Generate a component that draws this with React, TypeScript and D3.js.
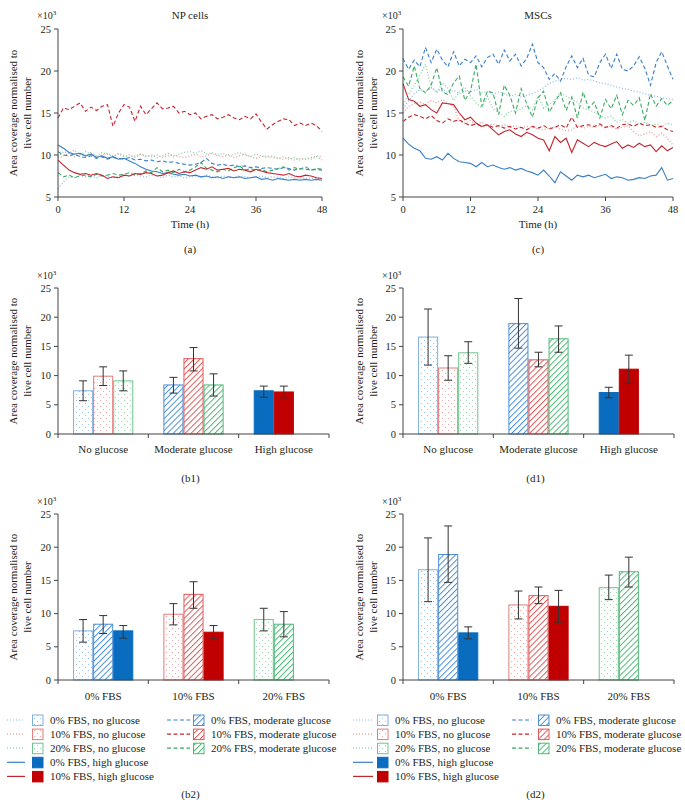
import React from "react";
import * as d3 from "d3";

// ---------- DATA ----------
const hours = d3.range(0, 49);

// NP cells time courses (x10^3)
const npNoGluc0 = [6.0,6.8,7.4,7.3,7.6,7.4,7.5,7.3,7.6,7.5,7.3,7.4,7.6,7.5,7.7,7.5,7.4,7.6,7.5,7.3,7.6,7.4,7.5,7.3,7.4,7.5,7.3,7.6,7.4,7.3,7.5,7.4,7.3,7.5,7.4,7.3,7.4,7.5,7.3,7.4,7.3,7.2,7.4,7.3,7.2,7.3,7.2,7.3,7.2];
const npNoGluc10 = [9.6,9.9,10.2,9.8,10.1,9.9,10.3,9.8,10.0,10.2,9.9,10.1,9.8,10.0,9.7,10.1,9.9,9.8,10.0,9.7,9.9,10.0,9.8,9.7,9.9,10.1,9.8,9.9,10.2,9.9,9.8,10.0,9.7,9.9,10.1,9.8,9.6,9.8,9.9,9.7,9.6,9.5,9.7,9.4,9.6,9.5,9.7,9.9,9.8];
const npNoGluc20 = [9.8,10.4,10.2,10.6,10.0,10.4,10.2,9.9,10.3,10.1,9.8,10.2,10.0,9.7,9.9,10.1,9.8,10.0,9.7,9.9,10.2,9.8,10.1,10.3,10.4,10.2,10.5,10.1,10.3,10.0,10.2,9.9,10.1,10.3,10.0,9.8,10.1,9.9,9.7,9.9,9.6,9.8,9.5,9.7,9.4,9.6,9.5,9.8,9.4];
const npMod0 = [10.4,10.0,9.9,10.1,9.8,9.7,9.9,9.6,9.8,9.5,9.7,9.6,9.5,9.7,9.4,9.5,9.3,9.4,9.2,9.3,9.1,9.2,9.0,8.9,8.8,8.9,9.1,9.6,9.0,8.8,8.9,8.7,8.8,8.6,8.7,8.5,8.6,8.4,8.5,8.4,8.3,8.5,8.4,8.2,8.4,8.3,8.2,8.3,8.2];
const npMod10 = [14.4,15.6,15.4,15.8,16.2,15.2,15.7,15.3,15.8,16.0,13.4,15.0,16.0,15.7,14.0,15.8,14.8,15.5,16.2,15.5,15.6,15.8,15.0,15.2,14.8,15.0,14.3,14.6,14.8,14.3,14.5,14.8,14.4,14.2,14.6,14.3,14.9,13.9,13.1,13.6,14.0,14.3,14.2,13.5,13.8,13.5,13.8,13.5,12.8];
const npMod20 = [7.9,7.4,7.6,7.3,7.5,7.6,7.4,7.7,7.5,7.6,7.8,7.6,7.7,7.9,7.6,7.8,8.1,7.9,8.5,8.0,8.2,7.9,8.3,8.0,8.2,8.6,9.1,8.4,8.2,8.0,8.3,8.1,8.5,8.7,8.2,8.4,8.1,8.3,8.0,8.2,8.4,8.6,8.2,8.5,8.3,8.6,8.2,8.4,8.3];
const npHigh0 = [11.2,10.8,10.3,10.1,10.2,9.9,10.1,9.7,9.9,9.6,9.8,9.5,9.6,9.3,9.0,8.6,8.3,8.1,8.0,7.8,7.9,7.7,7.6,7.7,7.5,7.6,7.4,7.5,7.3,7.4,7.2,7.4,7.3,7.4,7.2,7.3,7.4,7.1,7.2,7.0,7.2,7.1,7.0,7.1,7.0,7.1,7.0,7.1,7.0];
const npHigh10 = [9.4,8.8,8.2,7.9,7.7,7.8,7.6,7.8,7.6,7.2,7.4,7.3,7.6,7.5,7.8,7.7,7.9,7.8,7.5,7.6,7.9,8.1,7.8,8.0,7.9,8.2,8.5,8.3,8.6,8.2,8.3,8.4,8.1,8.3,8.2,8.0,8.3,8.1,7.9,7.8,7.7,7.6,7.8,7.5,7.4,7.6,7.5,7.3,7.2];

// MSCs time courses (x10^3)
const mscNoGluc0 = [15.5,16.5,17.3,17.8,17.5,18.0,17.6,17.9,17.4,17.7,17.3,17.6,17.5,17.8,17.4,17.6,17.2,17.5,17.3,17.0,17.2,16.9,17.1,17.3,17.6,18.0,18.5,18.8,19.0,19.1,19.0,19.2,18.9,19.0,18.8,18.6,18.5,18.3,18.1,17.9,17.8,17.6,17.5,17.3,17.1,17.0,16.8,16.7,16.6];
const mscNoGluc10 = [15.0,15.8,16.1,16.3,16.0,16.5,16.2,16.6,16.2,15.8,14.0,13.8,14.1,13.6,13.9,13.5,13.7,13.4,13.6,13.3,13.5,13.2,13.4,13.3,13.1,13.0,13.2,13.3,13.1,12.9,13.0,13.5,13.2,13.4,13.3,13.5,13.2,13.4,13.1,13.3,13.5,12.8,12.3,12.5,12.8,12.2,12.6,12.0,11.2];
const mscNoGluc20 = [16.0,17.2,18.3,19.5,20.8,18.1,17.4,18.6,17.9,16.5,17.5,18.1,17.0,16.2,15.6,17.0,15.5,15.1,14.6,15.2,15.3,15.5,15.9,15.4,17.0,15.6,16.0,16.6,17.4,17.0,16.6,16.3,15.6,15.4,15.1,14.7,14.4,14.6,13.9,14.2,13.8,14.1,13.7,13.9,13.5,13.7,13.4,13.8,13.6];
const mscMod0 = [21.5,20.2,21.3,20.5,22.8,21.0,22.6,21.3,20.5,22.3,20.6,21.4,21.0,21.8,20.5,21.6,22.0,20.8,22.5,21.2,22.0,20.6,21.5,23.2,21.0,20.4,19.0,19.7,18.8,20.5,21.8,20.4,21.5,19.5,19.3,21.0,22.0,20.3,22.0,20.2,20.0,20.6,21.7,20.3,18.3,21.0,22.3,20.6,19.0];
const mscMod10 = [14.0,14.5,14.8,14.6,14.3,14.7,14.1,13.8,14.3,14.0,14.2,13.8,13.5,13.7,13.4,13.6,13.3,13.5,13.2,13.4,13.1,13.3,13.0,13.4,13.2,13.5,13.1,13.3,13.6,13.2,14.5,13.3,13.5,13.6,13.4,13.7,13.3,13.5,13.2,13.6,13.7,13.4,13.8,13.5,13.6,13.3,13.4,13.0,12.8];
const mscMod20 = [19.3,18.2,20.6,17.9,17.4,18.3,20.4,17.5,17.2,18.6,19.4,16.5,17.6,20.8,15.8,17.6,17.4,14.8,18.3,17.1,15.0,17.9,16.1,14.5,16.8,17.6,15.1,16.3,17.4,15.3,16.9,14.4,17.5,15.6,16.3,14.4,16.6,15.5,17.1,14.8,16.5,15.9,16.8,14.1,17.3,15.8,16.7,15.9,16.5];
const mscHigh0 = [12.0,11.3,10.8,10.5,9.6,9.5,9.8,9.4,10.2,9.6,9.2,9.1,9.0,8.6,9.1,8.6,8.8,8.5,8.3,8.5,8.2,8.4,8.1,7.9,7.6,8.2,7.5,6.7,8.0,7.5,7.0,7.6,7.4,7.6,7.3,7.5,7.7,7.2,7.4,7.3,7.0,7.1,7.3,7.2,7.5,7.6,8.5,7.0,7.2];
const mscHigh10 = [18.5,16.6,16.4,15.8,16.0,15.4,15.0,16.2,16.1,16.0,15.0,14.2,14.5,13.8,13.4,13.6,13.0,12.4,12.8,13.0,12.5,12.2,12.7,12.4,12.0,11.8,10.5,12.2,11.5,12.0,10.3,11.8,11.4,11.0,11.5,11.2,11.0,11.3,11.6,10.8,11.2,10.9,11.4,11.0,11.2,10.4,11.1,10.5,10.9];

// Conditions (order: 0% no, 10% no, 20% no, 0% mod, 10% mod, 20% mod, 0% high, 10% high)
const condKeys = ["n0", "n10", "n20", "m0", "m10", "m20", "h0", "h10"];
const condLabels = [
  "0% FBS, no glucose", "10% FBS, no glucose", "20% FBS, no glucose",
  "0% FBS, moderate glucose", "10% FBS, moderate glucose", "20% FBS, moderate glucose",
  "0% FBS, high glucose", "10% FBS, high glucose",
];
const npMean = [7.4, 9.9, 9.1, 8.4, 12.9, 8.4, 7.4, 7.2];
const npLow = [5.7, 8.3, 7.4, 7.0, 10.8, 6.5, 6.3, 6.2];
const npHigh = [9.1, 11.5, 10.8, 9.7, 14.8, 10.3, 8.2, 8.2];
const mscMean = [16.6, 11.3, 13.9, 18.9, 12.7, 16.3, 7.1, 11.1];
const mscLow = [11.8, 9.2, 12.1, 14.7, 11.5, 14.0, 6.2, 8.7];
const mscHigh = [21.4, 13.4, 15.8, 23.2, 14.0, 18.5, 8.0, 13.5];

const glucoseGroups = ["No glucose", "Moderate glucose", "High glucose"];
const glucoseSlots = [["n0", "n10", "n20"], ["m0", "m10", "m20"], ["h0", "h10", null]];
const fbsGroups = ["0% FBS", "10% FBS", "20% FBS"];
const fbsSlots = [["n0", "m0", "h0"], ["n10", "m10", "h10"], ["n20", "m20", null]];

const lineTicksY = [5, 10, 15, 20, 25];
const lineTicksX = [0, 12, 24, 36, 48];
const barTicksY = [0, 5, 10, 15, 20, 25];

// ---------- STYLE ----------
const FONT = "'Liberation Serif', 'Times New Roman', serif";
const TXT = "#231f20";
const AX = "#444";

const C = {
  blue: "#3a7fc5", red: "#c3262e", green: "#3caa62",
  blueL: "#8cbce8", redL: "#e69a9a", greenL: "#86cfa0",
  blueS: "#0a6cbf", redS: "#c00000",
  blueH: "#4d8fd4", redH: "#dc5b5b", greenH: "#50b878",
};

type Style = { stroke: string; dash: string; fill: string; barStroke: string };
const styles: Record<string, Style> = {
  n0: { stroke: C.blueL, dash: "1,2", fill: "url(#dotB)", barStroke: "#7fb0e0" },
  n10: { stroke: C.redL, dash: "1,2", fill: "url(#dotR)", barStroke: "#e27c7c" },
  n20: { stroke: C.greenL, dash: "1,2", fill: "url(#dotG)", barStroke: "#6cc48c" },
  m0: { stroke: C.blue, dash: "4,2.5", fill: "url(#hatB)", barStroke: C.blueH },
  m10: { stroke: C.red, dash: "4,2.5", fill: "url(#hatR)", barStroke: C.redH },
  m20: { stroke: C.green, dash: "4,2.5", fill: "url(#hatG)", barStroke: C.greenH },
  h0: { stroke: C.blue, dash: "", fill: C.blueS, barStroke: C.blueS },
  h10: { stroke: C.red, dash: "", fill: C.redS, barStroke: C.redS },
};

const npSeries: Record<string, number[]> = {
  n0: npNoGluc0, n10: npNoGluc10, n20: npNoGluc20,
  m0: npMod0, m10: npMod10, m20: npMod20, h0: npHigh0, h10: npHigh10,
};
const mscSeries: Record<string, number[]> = {
  n0: mscNoGluc0, n10: mscNoGluc10, n20: mscNoGluc20,
  m0: mscMod0, m10: mscMod10, m20: mscMod20, h0: mscHigh0, h10: mscHigh10,
};
const drawOrder = ["n0", "n10", "n20", "m0", "m20", "m10", "h0", "h10"];

function YTitle({ x1, x2, cy }: { x1: number; x2: number; cy: number }) {
  return (
    <g fontSize={11} fill={TXT} textAnchor="middle">
      <text transform={`translate(${x1},${cy}) rotate(-90)`} dy="0.35em">Area coverage normalised to</text>
      <text transform={`translate(${x2},${cy}) rotate(-90)`} dy="0.35em">live cell number</text>
    </g>
  );
}

function Exp({ x, y }: { x: number; y: number }) {
  return (
    <text x={x} y={y} fontSize={10} fill={TXT}>
      ×10<tspan fontSize={7} dy={-4}>3</tspan>
    </text>
  );
}

function LinePanel(p: {
  left: number; right: number; top: number; bottom: number; title: string; caption: string;
  series: Record<string, number[]>; tx1: number; tx2: number;
}) {
  const x = d3.scaleLinear().domain([0, 48]).range([p.left, p.right]);
  const y = d3.scaleLinear().domain([5, 25]).range([p.bottom, p.top]);
  const cx = (p.left + p.right) / 2;
  return (
    <g>
      <text x={cx} y={19} fontSize={11} textAnchor="middle" fill={TXT}>{p.title}</text>
      <Exp x={p.left - 21} y={19} />
      <YTitle x1={p.tx1} x2={p.tx2} cy={(p.top + p.bottom) / 2} />
      {drawOrder.map((k) => {
        const vals = p.series[k];
        const line = d3.line<number>().x((_, i) => x(hours[i])).y((d) => y(d));
        const s = styles[k];
        return (
          <path key={k} d={line(vals) || ""} fill="none" stroke={s.stroke}
            strokeWidth={k.startsWith("n") ? 1.3 : 1.1} strokeDasharray={s.dash || undefined} />
        );
      })}
      <line x1={p.left} x2={p.left} y1={p.top} y2={p.bottom} stroke={AX} />
      <line x1={p.left} x2={p.right} y1={p.bottom} y2={p.bottom} stroke={AX} />
      {lineTicksY.map((t) => (
        <g key={t}>
          <line x1={p.left - 4} x2={p.left} y1={y(t)} y2={y(t)} stroke={AX} />
          <text x={p.left - 7} y={y(t)} dy="0.35em" fontSize={10.5} textAnchor="end" fill={TXT}>{t}</text>
        </g>
      ))}
      {lineTicksX.map((t) => (
        <g key={t}>
          <line x1={x(t)} x2={x(t)} y1={p.bottom} y2={p.bottom + 4} stroke={AX} />
          <text x={x(t)} y={p.bottom + 16} fontSize={10.5} textAnchor="middle" fill={TXT}>{t}</text>
        </g>
      ))}
      <text x={cx} y={p.bottom + 31} fontSize={11} textAnchor="middle" fill={TXT}>Time (h)</text>
      <text x={cx} y={p.bottom + 56} fontSize={11} textAnchor="middle" fill={TXT}>{p.caption}</text>
    </g>
  );
}

function BarPanel(p: {
  left: number; right: number; top: number; bottom: number; groups: string[]; slots: (string | null)[][];
  mean: number[]; low: number[]; high: number[]; caption: string; captionY: number; catY: number;
  tx1: number; tx2: number;
}) {
  const y = d3.scaleLinear().domain([0, 25]).range([p.bottom, p.top]);
  const gx = d3.scaleBand<string>().domain(p.groups).range([p.left, p.right]).paddingInner(0).paddingOuter(0);
  const sx = d3.scaleBand<number>().domain([0, 1, 2]).range([0, gx.bandwidth()]).paddingInner(0).paddingOuter(0.75);
  const cx = (p.left + p.right) / 2;
  const bounds = [...p.groups.map((g) => gx(g) as number), p.right];
  return (
    <g>
      <Exp x={p.left - 21} y={p.top - 9} />
      <YTitle x1={p.tx1} x2={p.tx2} cy={(p.top + p.bottom) / 2} />
      {p.groups.map((g, gi) =>
        p.slots[gi].map((k, si) => {
          if (!k) return null;
          const idx = condKeys.indexOf(k);
          const x0 = (gx(g) as number) + (sx(si) as number);
          const w = sx.bandwidth();
          const s = styles[k];
          return (
            <rect key={k} x={x0 + 0.5} y={y(p.mean[idx])} width={w - 1} height={p.bottom - y(p.mean[idx])}
              fill={s.fill} stroke={s.barStroke} strokeWidth={1} />
          );
        })
      )}
      {p.groups.map((g, gi) =>
        p.slots[gi].map((k, si) => {
          if (!k) return null;
          const idx = condKeys.indexOf(k);
          const xc = (gx(g) as number) + (sx(si) as number) + sx.bandwidth() / 2;
          const yl = y(p.low[idx]);
          const yh = y(p.high[idx]);
          return (
            <g key={"e" + k} stroke="#333" strokeWidth={1}>
              <line x1={xc} x2={xc} y1={yh} y2={yl} />
              <line x1={xc - 4} x2={xc + 4} y1={yh} y2={yh} />
              <line x1={xc - 4} x2={xc + 4} y1={yl} y2={yl} />
            </g>
          );
        })
      )}
      <line x1={p.left} x2={p.left} y1={p.top} y2={p.bottom} stroke={AX} />
      <line x1={p.left} x2={p.right} y1={p.bottom} y2={p.bottom} stroke={AX} />
      {barTicksY.map((t) => (
        <g key={t}>
          <line x1={p.left - 4} x2={p.left} y1={y(t)} y2={y(t)} stroke={AX} />
          <text x={p.left - 7} y={y(t)} dy="0.35em" fontSize={10.5} textAnchor="end" fill={TXT}>{t}</text>
        </g>
      ))}
      {bounds.map((b, i) => (
        <line key={i} x1={b} x2={b} y1={p.bottom} y2={p.bottom + 4} stroke={AX} />
      ))}
      {p.groups.map((g) => (
        <text key={g} x={(gx(g) as number) + gx.bandwidth() / 2} y={p.catY} dy="0.35em" fontSize={11}
          textAnchor="middle" fill={TXT}>{g}</text>
      ))}
      <text x={cx - 3} y={p.captionY} dy="0.35em" fontSize={11} textAnchor="middle" fill={TXT}>{p.caption}</text>
    </g>
  );
}

function Legend(p: { cols: { lx1: number; lx2: number; bx: number; tx: number; keys: string[] }[]; y0: number }) {
  const step = 14.1;
  return (
    <g>
      {p.cols.map((c, ci) =>
        c.keys.map((k, i) => {
          const yy = p.y0 + i * step;
          const s = styles[k];
          return (
            <g key={ci + k}>
              <line x1={c.lx1} x2={c.lx2} y1={yy} y2={yy} stroke={s.stroke} strokeWidth={1.2}
                strokeDasharray={s.dash || undefined} />
              <rect x={c.bx + 0.5} y={yy - 5} width={10.5} height={10.5} fill={s.fill} stroke={s.barStroke} />
              <text x={c.tx} y={yy} dy="0.35em" fontSize={11} fill={TXT}>
                {condLabels[condKeys.indexOf(k)]}
              </text>
            </g>
          );
        })
      )}
    </g>
  );
}

function Defs() {
  const dot = (id: string, col: string) => (
    <pattern id={id} width={6} height={6} patternUnits="userSpaceOnUse">
      <rect width={6} height={6} fill="#fff" />
      <rect x={1} y={1} width={1} height={1} fill={col} />
      <rect x={4} y={4} width={1} height={1} fill={col} />
    </pattern>
  );
  const hat = (id: string, col: string) => (
    <pattern id={id} width={4.2} height={4.2} patternUnits="userSpaceOnUse" patternTransform="rotate(45)">
      <rect width={4.2} height={4.2} fill="#fff" />
      <line x1={0.5} y1={0} x2={0.5} y2={4.2} stroke={col} strokeWidth={1} />
    </pattern>
  );
  return (
    <defs>
      {dot("dotB", "#9cc4ec")}
      {dot("dotR", "#eda5a5")}
      {dot("dotG", "#9ad7af")}
      {hat("hatB", C.blueH)}
      {hat("hatR", C.redH)}
      {hat("hatG", C.greenH)}
    </defs>
  );
}

export default function App() {
  const legendLeftCols = [
    { lx1: 7, lx2: 25, bx: 32, tx: 50, keys: ["n0", "n10", "n20", "h0", "h10"] },
    { lx1: 167, lx2: 190, bx: 193, tx: 211, keys: ["m0", "m10", "m20"] },
  ];
  const legendRightCols = [
    { lx1: 353, lx2: 373, bx: 377, tx: 395, keys: ["n0", "n10", "n20", "h0", "h10"] },
    { lx1: 512, lx2: 532, bx: 538, tx: 556, keys: ["m0", "m10", "m20"] },
  ];
  return (
    <svg width={685} height={804} style={{ position: "absolute", left: 0, top: 0, background: "#fff" }}
      fontFamily={FONT}>
      <Defs />
      <rect width={685} height={804} fill="#fff" />
      <LinePanel left={58} right={322} top={29} bottom={197} title="NP cells" caption="(a)"
        series={npSeries} tx1={13} tx2={27} />
      <LinePanel left={403} right={673} top={29} bottom={197} title="MSCs" caption="(c)"
        series={mscSeries} tx1={359} tx2={373} />
      <BarPanel left={58} right={329} top={288} bottom={434} groups={glucoseGroups} slots={glucoseSlots}
        mean={npMean} low={npLow} high={npHigh} caption="(b1)" captionY={478} catY={449} tx1={13} tx2={27} />
      <BarPanel left={403} right={674} top={288} bottom={434} groups={glucoseGroups} slots={glucoseSlots}
        mean={mscMean} low={mscLow} high={mscHigh} caption="(d1)" captionY={478} catY={449} tx1={359} tx2={373} />
      <BarPanel left={58} right={329} top={514} bottom={680} groups={fbsGroups} slots={fbsSlots}
        mean={npMean} low={npLow} high={npHigh} caption="(b2)" captionY={794} catY={696} tx1={13} tx2={27} />
      <BarPanel left={403} right={674} top={514} bottom={680} groups={fbsGroups} slots={fbsSlots}
        mean={mscMean} low={mscLow} high={mscHigh} caption="(d2)" captionY={794} catY={696} tx1={359} tx2={373} />
      <Legend cols={legendLeftCols} y0={720} />
      <Legend cols={legendRightCols} y0={720} />
    </svg>
  );
}
